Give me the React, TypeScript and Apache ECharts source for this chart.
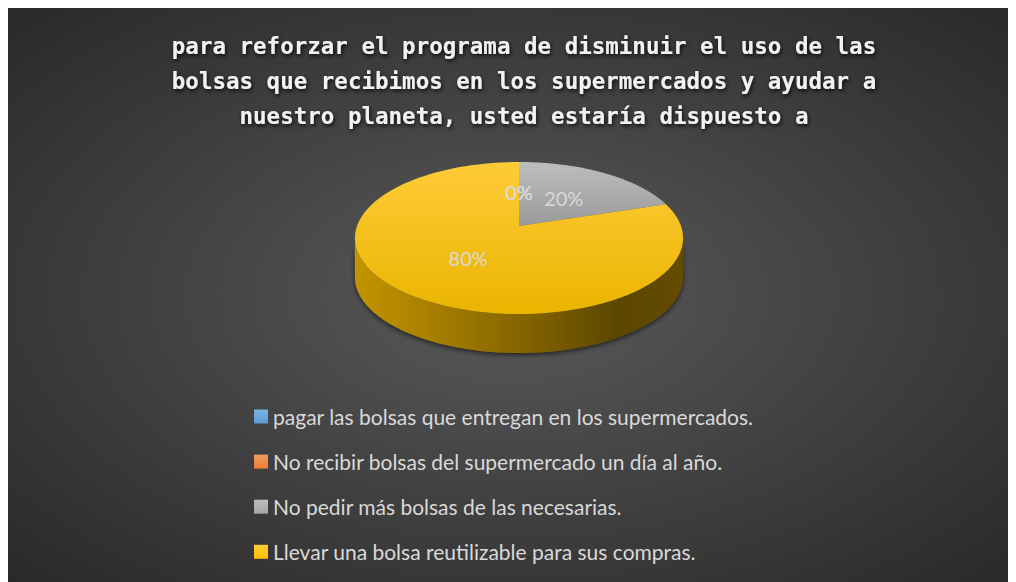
import React, { useEffect, useRef } from "react";
import * as echarts from "echarts";

const titleLines = [
  "para reforzar el programa de disminuir el uso de las",
  "bolsas que recibimos en los supermercados y ayudar a",
  "nuestro planeta, usted estaría dispuesto a",
];
const categories = [
  "pagar las bolsas que entregan en los supermercados.",
  "No recibir bolsas del supermercado un día al año.",
  "No pedir más bolsas de las necesarias.",
  "Llevar una bolsa reutilizable para sus compras.",
];
const values = [0, 0, 20, 80];
const baseColors = ["#5b9bd5", "#ed7d31", "#a5a5a5", "#ffc000"];
const lightColors = ["#7db3e3", "#f39a62", "#bdbdbd", "#ffcb38"];
const darkColors = ["#4a8ac8", "#dd6c20", "#9a9a9a", "#eab500"];

// pie geometry (chart pixel coords)
const CX = 511;
const CY = 218;
const SR = 162;
const KR = 74.1;
const PR = 0.158;
const DEPTH = 39;

function project(theta: number, f: number): [number, number] {
  const X = f * Math.sin(theta);
  const Z = f * Math.cos(theta);
  const w = 1 + PR * Z;
  return [CX + (SR * X) / w, CY - (KR * Z) / w];
}

const thL = Math.acos(-PR);
const thR = 2 * Math.PI - thL;

export default function App() {
  const ref = useRef<HTMLDivElement>(null);
  useEffect(() => {
    if (!ref.current) return;
    const chart = echarts.init(ref.current, undefined, { renderer: "svg" });
    const total = values.reduce((a, b) => a + b, 0);
    const starts: number[] = [];
    let acc = 0;
    values.forEach((v) => {
      starts.push(acc);
      acc += v;
    });

    const renderItem = (params: any, api: any) => {
      const idx = params.seriesIndex;
      const v = api.value(0);
      const st = api.value(1);
      const tot = api.value(2);
      const a1 = (st / tot) * 2 * Math.PI;
      const a2 = ((st + v) / tot) * 2 * Math.PI;
      const children: any[] = [];
      if (v > 0) {
        const s1 = Math.max(a1, thL);
        const s2 = Math.min(a2, thR);
        if (s2 > s1) {
          const top: number[][] = [];
          const bot: number[][] = [];
          const N = 80;
          for (let i = 0; i <= N; i++) {
            const t = s1 + ((s2 - s1) * i) / N;
            const p = project(t, 1);
            top.push([p[0], p[1]]);
            bot.push([p[0], p[1] + DEPTH]);
          }
          children.push({
            type: "polygon",
            z2: 1,
            shape: { points: top.concat(bot.reverse()) },
            style: {
              fill: new echarts.graphic.LinearGradient(0, 0, 1, 0, [
                { offset: 0, color: "#c49400" },
                { offset: 0.45, color: "#8c6b00" },
                { offset: 0.8, color: "#5c4600" },
                { offset: 1, color: "#644c00" },
              ]),
              shadowColor: "rgba(0,0,0,0.6)",
              shadowBlur: 5,
              shadowOffsetY: 2,
            },
          });
        }
        const pts: number[][] = [project(0, 0)];
        const M = 120;
        for (let i = 0; i <= M; i++) {
          pts.push(project(a1 + ((a2 - a1) * i) / M, 1));
        }
        children.push({
          type: "polygon",
          z2: 5,
          shape: { points: pts },
          style: {
            fill: new echarts.graphic.LinearGradient(0, 0, 0, 1, [
              { offset: 0, color: lightColors[idx] },
              { offset: 1, color: darkColors[idx] },
            ]),
          },
        });
      }
      const mid = (a1 + a2) / 2;
      const lp = project(mid, 0.5);
      children.push({
        type: "text",
        z2: 50,
        x: lp[0],
        y: lp[1],
        style: {
          text: Math.round((v / tot) * 100) + "%",
          fill: "#d9d9d9",
          fontSize: 20,
          fontFamily: "Lato",
          align: "center",
          verticalAlign: "middle",
        },
      });
      return { type: "group", children };
    };

    chart.setOption({
      animation: false,
      backgroundColor: {
        type: "radial",
        x: 0.5,
        y: 0.5,
        r: 0.75,
        colorStops: [
          { offset: 0, color: "#5a5a5a" },
          { offset: 1, color: "#262626" },
        ],
      },
      title: {
        text: titleLines.join("\n"),
        left: 511,
        textAlign: "center",
        top: 15,
        textStyle: {
          color: "#f2f2f2",
          fontSize: 22.5,
          fontWeight: "bold",
          fontFamily: "DejaVu Sans Mono",
          lineHeight: 35,
          textShadowColor: "rgba(0,0,0,0.85)",
          textShadowBlur: 4,
          textShadowOffsetX: 1,
          textShadowOffsetY: 2,
        },
      },
      legend: {
        orient: "vertical",
        left: 241,
        top: 393,
        itemWidth: 14,
        itemHeight: 14,
        itemGap: 24.1,
        icon: "rect",
        data: categories,
        textStyle: {
          color: "#d9d9d9",
          fontSize: 21,
          fontFamily: "Lato",
          lineHeight: 20,
        },
      },
      series: categories.map((name, i) => ({
        type: "custom",
        name,
        coordinateSystem: "none",
        itemStyle: {
          color: new echarts.graphic.LinearGradient(0, 0, 0, 1, [
            { offset: 0, color: lightColors[i] },
            { offset: 1, color: baseColors[i] },
          ]),
        },
        data: [[values[i], starts[i], total]],
        renderItem,
      })),
    });
    return () => chart.dispose();
  }, []);
  return <div ref={ref} style={{ width: 1007, height: 574 }} />;
}
